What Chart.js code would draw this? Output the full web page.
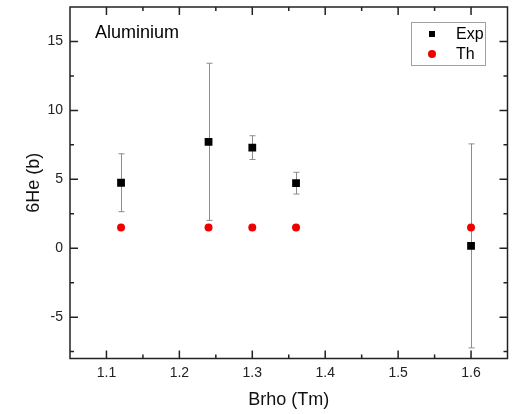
<!DOCTYPE html>
<html>
<head>
<meta charset="utf-8">
<script src="https://cdn.jsdelivr.net/npm/chart.js"></script>
<style>
  html, body { margin: 0; padding: 0; background: #fff; }
  canvas { display: block; }
</style>
</head>
<body>
<canvas id="myChart" width="513" height="414"></canvas>
<script>
// Measured cross sections vs magnetic rigidity
const brho = [1.12, 1.24, 1.30, 1.36, 1.60];
const expValues = [4.75, 7.72, 7.30, 4.72, 0.17];
const expErrors = [2.1, 5.7, 0.86, 0.79, 7.4];
const thValues = [1.5, 1.5, 1.5, 1.5, 1.5];

const xTicks = [1.1, 1.2, 1.3, 1.4, 1.5, 1.6];
const xMinor = [1.15, 1.25, 1.35, 1.45, 1.55];
const yTicks = [-5, 0, 5, 10, 15];
const yMinor = [-7.5, -2.5, 2.5, 7.5, 12.5];

const FONT = "'Liberation Sans', Arial, sans-serif";

// error bars, frame with inward ticks, legend box and panel label
const decorations = {
  id: 'decorations',
  beforeDatasetsDraw(chart) {
    const { ctx, scales: { x, y } } = chart;
    ctx.save();
    ctx.strokeStyle = '#8c8c8c';
    ctx.lineWidth = 1;
    brho.forEach((b, i) => {
      const px = Math.round(x.getPixelForValue(b)) + 0.5;
      const top = y.getPixelForValue(expValues[i] + expErrors[i]);
      const bot = y.getPixelForValue(expValues[i] - expErrors[i]);
      ctx.beginPath();
      ctx.moveTo(px, top);
      ctx.lineTo(px, bot);
      ctx.moveTo(px - 3, top);
      ctx.lineTo(px + 3, top);
      ctx.moveTo(px - 3, bot);
      ctx.lineTo(px + 3, bot);
      ctx.stroke();
    });
    ctx.restore();
  },
  afterDraw(chart) {
    const { ctx, chartArea: a, scales: { x, y } } = chart;
    ctx.save();
    ctx.strokeStyle = '#222';
    ctx.lineWidth = 1.5;
    ctx.strokeRect(a.left, a.top, a.right - a.left, a.bottom - a.top);

    ctx.beginPath();
    const vTick = (v, len) => {
      const px = x.getPixelForValue(v);
      ctx.moveTo(px, a.bottom); ctx.lineTo(px, a.bottom - len);
      ctx.moveTo(px, a.top); ctx.lineTo(px, a.top + len);
    };
    const hTick = (v, len) => {
      const py = y.getPixelForValue(v);
      ctx.moveTo(a.left, py); ctx.lineTo(a.left + len, py);
      ctx.moveTo(a.right, py); ctx.lineTo(a.right - len, py);
    };
    xTicks.forEach(v => vTick(v, 8));
    xMinor.forEach(v => vTick(v, 4));
    yTicks.forEach(v => hTick(v, 8));
    yMinor.forEach(v => hTick(v, 4));
    ctx.stroke();

    // panel label
    ctx.fillStyle = '#000';
    ctx.font = '18px ' + FONT;
    ctx.textBaseline = 'middle';
    ctx.textAlign = 'left';
    ctx.fillText('Aluminium', 95, 33);

    // legend
    ctx.strokeStyle = '#a0a0a0';
    ctx.lineWidth = 1;
    ctx.strokeRect(411.5, 22.5, 74, 43);
    ctx.fillStyle = '#000';
    ctx.fillRect(429, 31, 6, 6);
    ctx.fillStyle = '#ee0000';
    ctx.beginPath();
    ctx.arc(432, 54, 4, 0, Math.PI * 2);
    ctx.fill();
    ctx.fillStyle = '#000';
    ctx.font = '16px ' + FONT;
    ctx.fillText('Exp', 456, 35);
    ctx.fillText('Th', 456, 55);
    ctx.restore();
  }
};

const ctx = document.getElementById('myChart').getContext('2d');

new Chart(ctx, {
  type: 'scatter',
  data: {
    datasets: [
      {
        label: 'Th',
        data: brho.map((b, i) => ({ x: b, y: thValues[i] })),
        pointStyle: 'circle',
        pointRadius: 4,
        backgroundColor: '#ee0000',
        borderColor: '#ee0000',
        borderWidth: 0
      },
      {
        label: 'Exp',
        data: brho.map((b, i) => ({ x: b, y: expValues[i] })),
        pointStyle: 'rect',
        pointRadius: 5.5,
        backgroundColor: '#000',
        borderColor: '#000',
        borderWidth: 0
      }
    ]
  },
  options: {
    responsive: false,
    animation: false,
    layout: { padding: { top: 7, right: 5, left: 0, bottom: 0 } },
    plugins: {
      legend: { display: false },
      tooltip: { enabled: false }
    },
    scales: {
      x: {
        type: 'linear',
        min: 1.05,
        max: 1.65,
        afterBuildTicks: s => { s.ticks = xTicks.map(v => ({ value: v })); },
        afterFit: s => { s.height = 55.5; s.paddingLeft = 0; s.paddingRight = 0; },
        grid: { display: false, drawTicks: false },
        border: { display: false },
        ticks: {
          padding: 6,
          color: '#222',
          font: { family: FONT, size: 14 },
          callback: v => v.toFixed(1)
        },
        title: {
          display: true,
          text: 'Brho (Tm)',
          color: '#111',
          font: { family: FONT, size: 18 },
          padding: { top: 0, bottom: 3 }
        }
      },
      y: {
        type: 'linear',
        min: -8,
        max: 17.5,
        afterBuildTicks: s => { s.ticks = yTicks.map(v => ({ value: v })); },
        afterFit: s => { s.width = 70; s.paddingTop = 0; s.paddingBottom = 0; },
        grid: { display: false, drawTicks: false },
        border: { display: false },
        ticks: {
          padding: 7,
          color: '#222',
          font: { family: FONT, size: 14 },
          callback: v => String(v)
        },
        title: {
          display: true,
          text: '6He (b)',
          color: '#111',
          font: { family: FONT, size: 18 },
          padding: { top: 23, bottom: 0 }
        }
      }
    }
  },
  plugins: [decorations]
});
</script>
</body>
</html>
